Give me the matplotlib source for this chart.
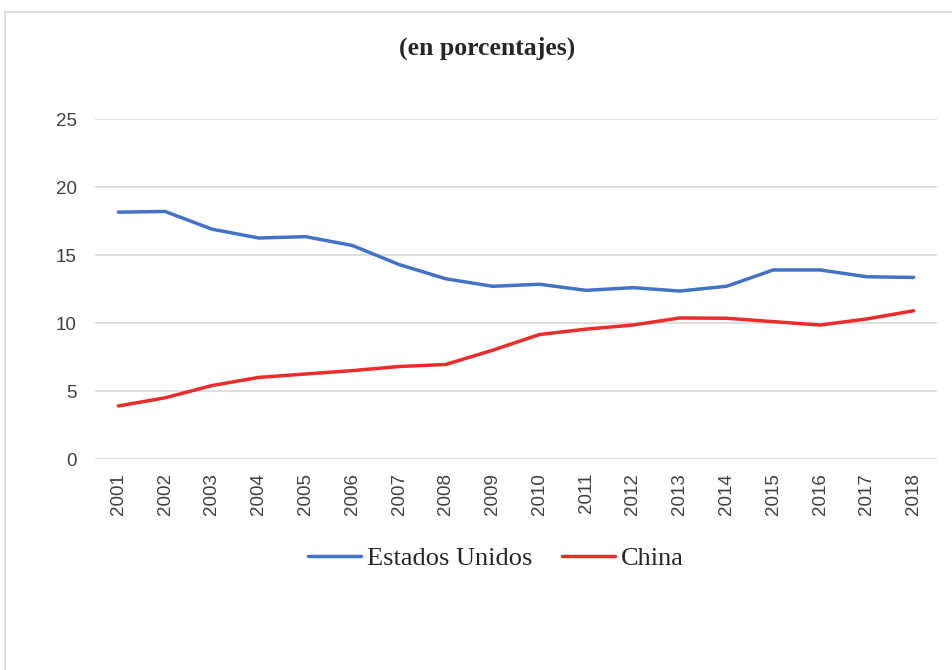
import matplotlib
matplotlib.use("Agg")
from matplotlib import pyplot as plt
from matplotlib.lines import Line2D

# participacion en las importaciones (en porcentajes)
years = [2001, 2002, 2003, 2004, 2005, 2006, 2007, 2008, 2009,
         2010, 2011, 2012, 2013, 2014, 2015, 2016, 2017, 2018]
estados_unidos = [18.15, 18.2, 16.9, 16.25, 16.35, 15.7, 14.3, 13.25, 12.7,
                  12.85, 12.4, 12.6, 12.35, 12.7, 13.9, 13.9, 13.4, 13.35]
china = [3.9, 4.5, 5.4, 6.0, 6.25, 6.5, 6.8, 6.95, 8.0,
         9.15, 9.55, 9.85, 10.37, 10.35, 10.1, 9.85, 10.3, 10.9]
yticks = [0, 5, 10, 15, 20, 25]

fig = plt.figure(figsize=(9.52, 6.7), dpi=100)
ax = fig.add_axes([95/952, 1-459/670, (937-95)/952, (459-119)/670])

ax.plot(years, estados_unidos, color='#4472C4', lw=2.5, solid_capstyle='round',
        label='Estados Unidos')
ax.plot(years, china, color='#EC2B2B', lw=2.5, solid_capstyle='round',
        label='China')

ax.set_xlim(2000.5, 2018.5)
ax.set_ylim(0, 25)
ax.set_yticks(yticks)
ax.set_xticks(years)
ax.set_xticklabels([str(y) for y in years], rotation=90)
ax.grid(axis='y', color='#D9D9D9', lw=1.2)
ax.set_axisbelow(True)
for s in ax.spines.values():
    s.set_visible(False)
ax.tick_params(axis='both', length=0, labelsize=13.5, labelcolor='#404040')
ax.tick_params(axis='y', pad=13)
ax.tick_params(axis='x', pad=10)
for lab in ax.get_xticklabels() + ax.get_yticklabels():
    lab.set_family('Liberation Sans')

fig.text(487/952, 1-48/670, '(en porcentajes)', ha='center', va='center',
         family='Liberation Serif', fontweight='bold', fontsize=18.5, color='#262626')

fig.legend(loc='center', bbox_to_anchor=(496/952, 1-558/670), ncol=2, frameon=False,
           prop={'family': 'Liberation Serif', 'size': 19}, labelcolor='#262626',
           handlelength=2.0, handletextpad=0.25, columnspacing=1.1)

# marco gris del recuadro
fig.add_artist(Line2D([5/952, 1], [1-12/670, 1-12/670], color='#D6D6D6', lw=1.2))
fig.add_artist(Line2D([5/952, 5/952], [0, 1-12/670], color='#D6D6D6', lw=1.2))

fig.savefig('out.png', dpi=100, facecolor='white')
